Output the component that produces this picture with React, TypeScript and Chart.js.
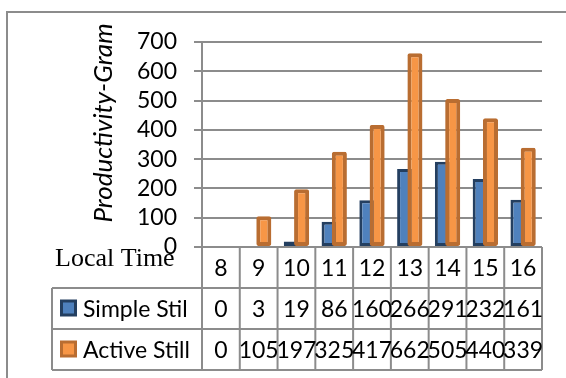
import React, { useEffect, useRef } from 'react';
import { Chart, registerables } from 'chart.js';

Chart.register(...registerables);

// ---- data ----
const categories = ['8', '9', '10', '11', '12', '13', '14', '15', '16'];
const simpleStil = [0, 3, 19, 86, 160, 266, 291, 232, 161];
const activeStill = [0, 105, 197, 325, 417, 662, 505, 440, 339];
const seriesNames = ['Simple Stil', 'Active Still'];
const yMin = 0;
const yMax = 700;
const yStep = 100;
const yAxisTitle = 'Productivity-Gram';
const xAxisTitle = 'Local Time';

// ---- styles ----
const GRID = '#8c8c8c';
const BLUE = '#4f81bd';
const BLUE_EDGE = '#243f60';
const ORANGE = '#f79646';
const ORANGE_EDGE = '#b96d31';
const FONT = 'Lato';

const tablePlugin = {
  id: 'dataTable',
  beforeDatasetsDraw(chart: any) {
    // draw first dataset first so the second (orange) sits on top
    const metas = chart.getSortedVisibleDatasetMetas();
    for (const m of metas) chart._drawDataset(m);
    return false;
  },
  afterDraw(chart: any) {
    const ctx: CanvasRenderingContext2D = chart.ctx;
    const xs = chart.scales.x;
    const area = chart.chartArea;
    const n = categories.length;
    const step = xs.getPixelForValue(1) - xs.getPixelForValue(0);
    const x0 = xs.getPixelForValue(0) - step / 2;
    const top = area.bottom;
    const rowH = 41;
    const labelLeft = 52;
    const right = x0 + n * step;

    ctx.save();
    ctx.strokeStyle = GRID;
    ctx.lineWidth = 2;
    // outer frame (left & top visible)
    ctx.beginPath();
    ctx.moveTo(7, chart.height);
    ctx.lineTo(7, 12);
    ctx.lineTo(chart.width, 12);
    ctx.stroke();

    // table grid
    ctx.beginPath();
    for (let i = 0; i <= n; i++) {
      const px = x0 + i * step;
      ctx.moveTo(px, top);
      ctx.lineTo(px, top + 3 * rowH);
    }
    for (let r = 1; r <= 3; r++) {
      ctx.moveTo(labelLeft, top + r * rowH);
      ctx.lineTo(right, top + r * rowH);
    }
    ctx.moveTo(labelLeft, top + rowH);
    ctx.lineTo(labelLeft, top + 3 * rowH);
    ctx.stroke();

    // cell text
    ctx.fillStyle = '#000';
    ctx.textBaseline = 'middle';
    ctx.textAlign = 'center';
    ctx.font = `23px ${FONT}`;
    const rows = [categories, simpleStil.map(String), activeStill.map(String)];
    rows.forEach((vals, r) => {
      const cy = top + r * rowH + rowH / 2 + 1;
      vals.forEach((v, i) => {
        ctx.fillText(v, xs.getPixelForValue(i), cy);
      });
    });

    // series labels with keys
    const keys = [
      { fill: BLUE, edge: BLUE_EDGE },
      { fill: ORANGE, edge: ORANGE_EDGE },
    ];
    ctx.textAlign = 'left';
    seriesNames.forEach((name, r) => {
      const cy = top + (r + 1) * rowH + rowH / 2;
      const k = keys[r];
      ctx.fillStyle = k.edge;
      ctx.fillRect(60, cy - 9, 17, 17);
      ctx.fillStyle = k.fill;
      ctx.fillRect(63, cy - 6, 11, 11);
      ctx.fillStyle = '#000';
      ctx.fillText(name, 83, cy + 1);
    });

    // x axis label
    ctx.font = `26px "Liberation Serif"`;
    ctx.textBaseline = 'alphabetic';
    ctx.fillText(xAxisTitle, 55, top + 19);

    // y axis title
    ctx.translate(104, 123);
    ctx.rotate(-Math.PI / 2);
    ctx.textAlign = 'center';
    ctx.textBaseline = 'middle';
    ctx.font = `italic 26px ${FONT}`;
    ctx.fillText(yAxisTitle, 0, 0);
    ctx.restore();
  },
};

export default function App() {
  const ref = useRef<HTMLCanvasElement>(null);

  useEffect(() => {
    let chart: Chart | null = null;
    let cancelled = false;
    const make = () => {
      if (cancelled || !ref.current) return;
      chart = new Chart(ref.current, {
        type: 'bar',
        data: {
          labels: categories,
          datasets: [
            {
              label: seriesNames[0],
              data: simpleStil,
              backgroundColor: BLUE,
              borderColor: BLUE_EDGE,
              borderWidth: 3,
              borderSkipped: false,
              categoryPercentage: 0.545,
              barPercentage: 1.46,
            },
            {
              label: seriesNames[1],
              data: activeStill,
              backgroundColor: ORANGE,
              borderColor: ORANGE_EDGE,
              borderWidth: 4,
              borderSkipped: false,
              borderRadius: 2,
              categoryPercentage: 0.545,
              barPercentage: 1.46,
            },
          ],
        },
        options: {
          responsive: false,
          animation: false,
          devicePixelRatio: 1,
          layout: { padding: { left: 0, right: 24, top: 42, bottom: 131 } },
          plugins: {
            legend: { display: false },
            tooltip: { enabled: false },
          },
          scales: {
            x: { display: false },
            y: {
              min: yMin,
              max: yMax,
              afterFit: (s: any) => {
                s.width = 202;
              },
              ticks: {
                stepSize: yStep,
                autoSkip: false,
                padding: 17,
                color: '#000',
                font: { family: FONT, size: 23 },
              },
              grid: {
                color: GRID,
                lineWidth: 2,
                drawTicks: true,
                tickLength: 8,
                tickColor: GRID,
              },
              border: { display: true, color: GRID, width: 2 },
            },
          },
        },
        plugins: [tablePlugin],
      });
    };
    const fonts: any = (document as any).fonts;
    if (fonts && fonts.load) {
      Promise.all([
        fonts.load(`23px ${FONT}`),
        fonts.load(`italic 26px ${FONT}`),
        fonts.load(`26px "Liberation Serif"`),
      ]).then(make, make);
    } else make();
    return () => {
      cancelled = true;
      if (chart) chart.destroy();
    };
  }, []);

  return (
    <div style={{ position: 'fixed', left: 0, top: 0, width: 566, height: 378, background: '#fff' }}>
      <canvas ref={ref} width={566} height={378} style={{ display: 'block' }} />
    </div>
  );
}
